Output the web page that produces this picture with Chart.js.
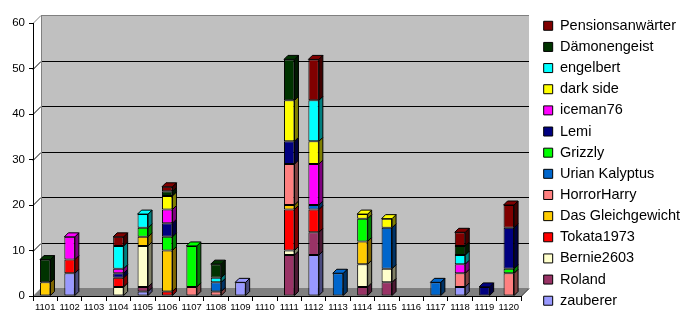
<!DOCTYPE html>
<html>
<head>
<meta charset="utf-8">
<script src="https://cdn.jsdelivr.net/npm/chart.js@4/dist/chart.umd.min.js"></script>
<style>
  html, body { margin: 0; padding: 0; background: #fff; }
</style>
</head>
<body>
<canvas id="chart" width="690" height="320"></canvas>
<script>
/* --------------- Data --------------------- */

const categories = ["1101", "1102", "1103", "1104", "1105", "1106", "1107", "1108", "1109", "1110",
  "1111", "1112", "1113", "1114", "1115", "1116", "1117", "1118", "1119", "1120"];

const zauberer = [0, 5, 0, 0, 1, 0, 0, 0, 3, 0, 0, 9, 0, 0, 0, 0, 0, 2, 0, 0];
const roland = [0, 0, 0, 0, 1, 0, 0, 0, 0, 0, 9, 5, 0, 2, 3, 0, 0, 0, 0, 0];
const bernie = [0, 0, 0, 2, 9, 0, 0, 0, 0, 0, 1, 0, 0, 5, 3, 0, 0, 0, 0, 0];
const tokata = [0, 3, 0, 2, 0, 1, 0, 0, 0, 0, 9, 5, 0, 0, 0, 0, 0, 0, 0, 0];
const gleichgewicht = [3, 0, 0, 0, 2, 9, 0, 0, 0, 0, 1, 0, 0, 5, 0, 0, 0, 0, 0, 0];
const horrorHarry = [0, 0, 0, 0, 0, 0, 2, 1, 0, 0, 9, 0, 0, 0, 0, 0, 0, 3, 0, 5];
const urian = [0, 0, 0, 0, 0, 0, 0, 2, 0, 0, 0, 1, 5, 0, 9, 0, 3, 0, 0, 0];
const grizzly = [0, 0, 0, 0, 2, 3, 9, 0, 0, 0, 0, 0, 0, 5, 0, 0, 0, 0, 0, 1];
const lemi = [0, 0, 0, 1, 0, 3, 0, 0, 0, 0, 5, 0, 0, 0, 0, 0, 0, 0, 2, 9];
const iceman = [0, 5, 0, 1, 0, 3, 0, 0, 0, 0, 0, 9, 0, 0, 0, 0, 0, 2, 0, 0];
const darkSide = [0, 0, 0, 0, 0, 3, 0, 0, 0, 0, 9, 5, 0, 1, 2, 0, 0, 0, 0, 0];
const engelbert = [0, 0, 0, 5, 3, 0, 0, 1, 0, 0, 0, 9, 0, 0, 0, 0, 0, 2, 0, 0];
const daemonengeist = [5, 0, 0, 0, 0, 1, 0, 3, 0, 0, 9, 0, 0, 0, 0, 0, 0, 2, 0, 0];
const pension = [0, 0, 0, 2, 0, 1, 0, 0, 0, 0, 0, 9, 0, 0, 0, 0, 0, 3, 0, 5];

const yTicks = [0, 10, 20, 30, 40, 50, 60];

/* --------------- Series (bottom of stack first) --------------------- */

const series = [
  ["zauberer", zauberer, "#9999FF"],
  ["Roland", roland, "#993366"],
  ["Bernie2603", bernie, "#FFFFCC"],
  ["Tokata1973", tokata, "#FF0000"],
  ["Das Gleichgewicht", gleichgewicht, "#FFCC00"],
  ["HorrorHarry", horrorHarry, "#FF8080"],
  ["Urian Kalyptus", urian, "#0066CC"],
  ["Grizzly", grizzly, "#00FF00"],
  ["Lemi", lemi, "#000080"],
  ["iceman76", iceman, "#FF00FF"],
  ["dark side", darkSide, "#FFFF00"],
  ["engelbert", engelbert, "#00FFFF"],
  ["Dämonengeist", daemonengeist, "#003300"],
  ["Pensionsanwärter", pension, "#800000"],
];

const FONT = "Arial, 'Liberation Sans', sans-serif";
const DEPTH = 4;   // bar depth
const WALL = 8;    // wall depth

function darken(hex) {
  const n = parseInt(hex.slice(1), 16);
  const r = ((n >> 16) & 255) >> 1, g = ((n >> 8) & 255) >> 1, b = (n & 255) >> 1;
  return `rgb(${r},${g},${b})`;
}

/* --------------- 3D walls, floor and grid --------------------- */

const wallPlugin = {
  id: "wall",
  beforeDraw(chart) {
    const { ctx, chartArea: a } = chart;
    const y = chart.scales.y;
    const L = a.left, R = a.right, T = y.getPixelForValue(60), B = y.getPixelForValue(0);
    ctx.save();
    // back wall
    ctx.fillStyle = "#C0C0C0";
    ctx.fillRect(L + WALL, T - WALL, R - L, B - T);
    // floor
    ctx.fillStyle = "#808080";
    ctx.beginPath();
    ctx.moveTo(L, B);
    ctx.lineTo(R, B);
    ctx.lineTo(R + WALL, B - WALL);
    ctx.lineTo(L + WALL, B - WALL);
    ctx.closePath();
    ctx.fill();
    ctx.lineWidth = 1;
    // gridlines on back wall and left side
    yTicks.forEach((v) => {
      if (v === 0) return;
      const py = Math.round(y.getPixelForValue(v)) + 0.5;
      ctx.strokeStyle = v === 60 ? "#808080" : "#000";
      ctx.beginPath();
      ctx.moveTo(L, py);
      ctx.lineTo(L + WALL, py - WALL);
      ctx.lineTo(R + WALL, py - WALL);
      ctx.stroke();
    });
    // back wall left edge
    ctx.strokeStyle = "#808080";
    ctx.beginPath();
    ctx.moveTo(L + WALL + 0.5, T - WALL);
    ctx.lineTo(L + WALL + 0.5, B - WALL);
    ctx.stroke();
    // floor right edge
    ctx.strokeStyle = "#000";
    ctx.beginPath();
    ctx.moveTo(R, Math.round(B) + 0.5);
    ctx.lineTo(R + WALL, Math.round(B) + 0.5 - WALL);
    ctx.stroke();
    ctx.restore();
  },
};

/* --------------- Side and top faces of the bars --------------------- */

const barSidesPlugin = {
  id: "barSides",
  afterDatasetsDraw(chart) {
    const { ctx } = chart;
    ctx.save();
    ctx.lineWidth = 1;
    ctx.strokeStyle = "#000";
    for (let i = 0; i < categories.length; i++) {
      let top = null;
      chart.data.datasets.forEach((ds, d) => {
        if (!ds.data[i]) return;
        const el = chart.getDatasetMeta(d).data[i];
        const { x, y, base, width } = el.getProps(["x", "y", "base", "width"], true);
        const r = x + width / 2;
        ctx.fillStyle = darken(series[d][2]);
        ctx.beginPath();
        ctx.moveTo(r, y);
        ctx.lineTo(r + DEPTH, y - DEPTH);
        ctx.lineTo(r + DEPTH, base - DEPTH);
        ctx.lineTo(r, base);
        ctx.closePath();
        ctx.fill();
        ctx.stroke();
        top = { x, y, width, color: series[d][2] };
      });
      if (top) {
        const l = top.x - top.width / 2, r = top.x + top.width / 2;
        ctx.fillStyle = top.color;
        ctx.beginPath();
        ctx.moveTo(l, top.y);
        ctx.lineTo(l + DEPTH, top.y - DEPTH);
        ctx.lineTo(r + DEPTH, top.y - DEPTH);
        ctx.lineTo(r, top.y);
        ctx.closePath();
        ctx.fill();
        ctx.stroke();
      }
    }
    ctx.restore();
  },
};

/* --------------- Chart --------------------- */

const chart = new Chart(document.getElementById("chart"), {
  type: "bar",
  plugins: [wallPlugin, barSidesPlugin],
  data: {
    labels: categories,
    datasets: series.map(([label, values, color]) => ({
      label: label,
      data: values.map((v) => (v === 0 ? null : v)),
      backgroundColor: color,
      borderColor: "#000",
      borderWidth: 1,
      borderSkipped: false,
      barPercentage: 0.43,
      categoryPercentage: 1,
    })),
  },
  options: {
    responsive: false,
    animation: false,
    layout: { padding: { top: 6.5, left: 0, right: 0, bottom: 0 } },
    plugins: {
      tooltip: { enabled: false },
      legend: {
        position: "right",
        reverse: true,
        maxWidth: 220,
        labels: {
          boxWidth: 9,
          boxHeight: 9,
          padding: 6.65,
          color: "#000",
          font: { family: FONT, size: 14.5 },
        },
      },
    },
    scales: {
      x: {
        stacked: true,
        grid: { display: true, drawOnChartArea: false, tickLength: 5, color: "#000", offset: true },
        border: { display: true, color: "#000" },
        ticks: { color: "#000", padding: 1, maxRotation: 0, autoSkip: false,
          font: { family: FONT, size: 9.5 } },
        afterFit(s) { s.height = 24; },
      },
      xTop: {
        type: "category",
        position: "top",
        grid: { display: false },
        border: { display: false },
        ticks: { display: false },
        afterFit(s) { s.height = 16.5; },
      },
      y: {
        stacked: true,
        min: 0,
        max: 60,
        ticks: { stepSize: 10, color: "#000", padding: 4, font: { family: FONT, size: 11.5 } },
        grid: { display: true, drawOnChartArea: false, tickLength: 4, color: "#000" },
        border: { display: true, color: "#000" },
        afterFit(s) { s.width = 33; },
      },
      yRight: {
        position: "right",
        grid: { display: false },
        border: { display: false },
        ticks: { display: false },
        afterFit(s) { s.width = 16; },
      },
    },
  },
});
</script>
</body>
</html>
